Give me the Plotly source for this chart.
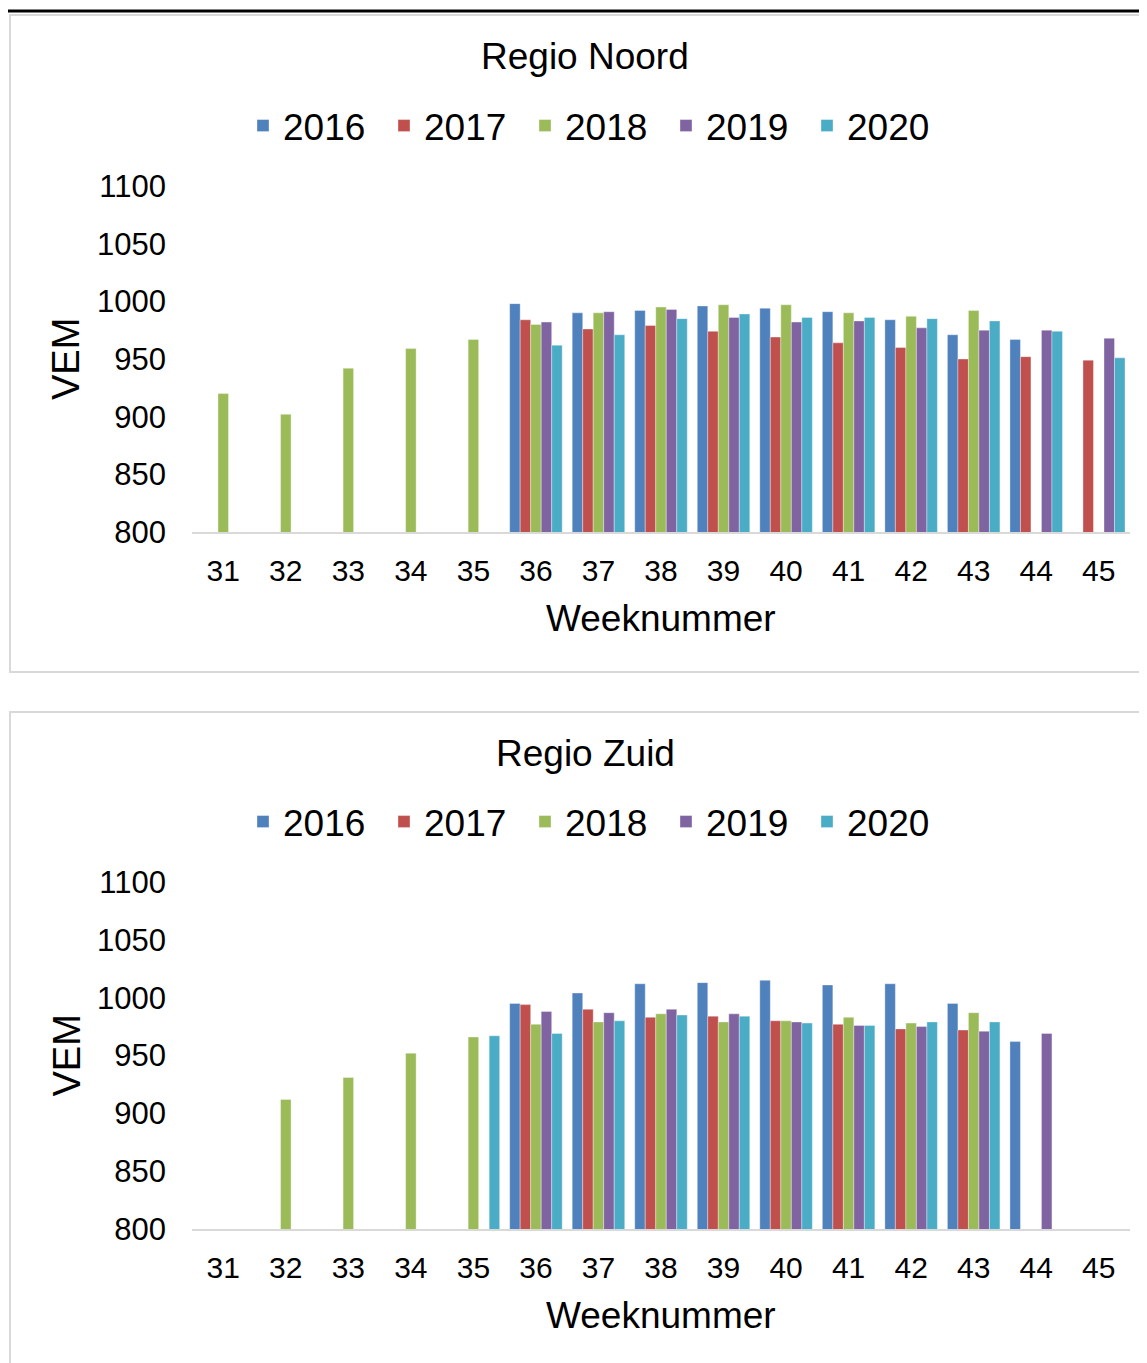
import plotly.graph_objects as go

# ---------------- data ----------------
weeks = [str(w) for w in range(31, 46)]
years = ["2016", "2017", "2018", "2019", "2020"]
colors = ["#4F81BD", "#C0504D", "#9BBB59", "#8064A2", "#4BACC6"]

noord_2016 = [None, None, None, None, None, 998, 990, 992, 996, 994, 991, 984, 971, 967, None]
noord_2017 = [None, None, None, None, None, 984, 976, 979, 974, 969, 964, 960, 950, 952, 949]
noord_2018 = [920, 902, 942, 959, 967, 980, 990, 995, 997, 997, 990, 987, 992, None, None]
noord_2019 = [None, None, None, None, None, 982, 991, 993, 986, 982, 983, 977, 975, 975, 968]
noord_2020 = [None, None, None, None, None, 962, 971, 985, 989, 986, 986, 985, 983, 974, 951]

zuid_2016 = [None, None, None, None, None, 995, 1004, 1012, 1013, 1015, 1011, 1012, 995, 962, None]
zuid_2017 = [None, None, None, None, None, 994, 990, 983, 984, 980, 977, 973, 972, None, None]
zuid_2018 = [None, 912, 931, 952, 966, 977, 979, 986, 979, 980, 983, 978, 987, None, None]
zuid_2019 = [None, None, None, None, None, 988, 987, 990, 986, 979, 976, 975, 971, 969, None]
zuid_2020 = [None, None, None, None, 967, 969, 980, 985, 984, 978, 976, 979, 979, None, None]

noord = [noord_2016, noord_2017, noord_2018, noord_2019, noord_2020]
zuid = [zuid_2016, zuid_2017, zuid_2018, zuid_2019, zuid_2020]

titles = ["Regio Noord", "Regio Zuid"]
x_title = "Weeknummer"
y_title = "VEM"
y_ticks = [800, 850, 900, 950, 1000, 1050, 1100]

# ---------------- layout helpers ----------------
# the page body has an 8px margin, so the figure is drawn 8px in from the
# window's top-left corner; reference pixel positions are converted here.
OFF = 8
W, H = 1147 - OFF, 1363 - OFF
FONT = "Liberation Sans, Arial, sans-serif"


def px(x):
    return (x - OFF) / W


def py(y):
    return 1 - (y - OFF) / H


fig = go.Figure()

for i, (yr, col) in enumerate(zip(years, colors)):
    fig.add_trace(go.Bar(
        x=weeks, y=noord[i], name=yr, marker_color=col,
        marker_line=dict(width=1, color="rgba(255,255,255,0.35)"),
        xaxis="x", yaxis="y", legend="legend",
    ))
for i, (yr, col) in enumerate(zip(years, colors)):
    fig.add_trace(go.Bar(
        x=weeks, y=zuid[i], name=yr, marker_color=col,
        marker_line=dict(width=1, color="rgba(255,255,255,0.35)"),
        xaxis="x2", yaxis="y2", legend="legend2",
    ))

# panel geometry (reference pixels)
panels = [
    dict(top=186, bottom=532, title_y=57, legend_y=126, box=(15, 672)),
    dict(top=882, bottom=1229, title_y=753, legend_y=822, box=(712, 1400)),
]
x_left, x_right = 192, 1130

xaxis_common = dict(
    type="category", categoryorder="array", categoryarray=weeks,
    showline=True, linecolor="#D9D9D9", linewidth=2,
    showgrid=False, zeroline=False, ticks="",
    ticklabelstandoff=11,
    tickfont=dict(family=FONT, size=30, color="black"),
    domain=[px(x_left), px(x_right)],
)
yaxis_common = dict(
    range=[800, 1100], tickvals=y_ticks, showline=False, showgrid=False,
    zeroline=False, ticks="", ticklabelstandoff=25,
    tickfont=dict(family=FONT, size=31, color="black"),
)

annotations = []
shapes = []
for k, p in enumerate(panels):
    annotations.append(dict(
        text=titles[k], x=px(585), y=py(p["title_y"]), xref="paper", yref="paper",
        xanchor="center", yanchor="middle", showarrow=False,
        font=dict(family=FONT, size=37, color="black")))
    annotations.append(dict(
        text=x_title, x=px((x_left + x_right) / 2), y=py(p["bottom"] + 86),
        xref="paper", yref="paper", xanchor="center", yanchor="middle",
        showarrow=False, font=dict(family=FONT, size=37, color="black")))
    annotations.append(dict(
        text=y_title, x=px(66), y=py((p["top"] + p["bottom"]) / 2),
        xref="paper", yref="paper", xanchor="center", yanchor="middle",
        textangle=-90, showarrow=False,
        font=dict(family=FONT, size=38, color="black")))
    shapes.append(dict(
        type="rect", xref="paper", yref="paper",
        x0=px(10), x1=px(1200), y0=py(p["box"][0]), y1=py(p["box"][1]),
        line=dict(color="#D9D9D9", width=2), fillcolor="rgba(0,0,0,0)", layer="below"))

shapes.append(dict(type="line", xref="paper", yref="paper",
                   x0=px(3), x1=px(1200), y0=py(11), y1=py(11),
                   line=dict(color="black", width=3)))

legend_common = dict(
    orientation="h", xanchor="left", yanchor="middle",
    font=dict(family=FONT, size=37, color="black"),
    bgcolor="rgba(0,0,0,0)", entrywidthmode="pixels", entrywidth=96,
    itemwidth=30, tracegroupgap=0,
)

fig.update_layout(
    width=W, height=H,
    margin=dict(l=0, r=0, t=0, b=0, pad=0, autoexpand=False),
    paper_bgcolor="white", plot_bgcolor="white",
    barmode="group", bargap=0.16, bargroupgap=0,
    font=dict(family=FONT, color="black"),
    xaxis=dict(**xaxis_common, anchor="y"),
    yaxis=dict(**yaxis_common, anchor="x", domain=[py(panels[0]["bottom"]), py(panels[0]["top"])]),
    xaxis2=dict(**xaxis_common, anchor="y2"),
    yaxis2=dict(**yaxis_common, anchor="x2", domain=[py(panels[1]["bottom"]), py(panels[1]["top"])]),
    legend=dict(**legend_common, x=px(243), y=py(panels[0]["legend_y"])),
    legend2=dict(**legend_common, x=px(243), y=py(panels[1]["legend_y"])),
    annotations=annotations,
    shapes=shapes,
    showlegend=True,
)

fig.write_html("out.html")
